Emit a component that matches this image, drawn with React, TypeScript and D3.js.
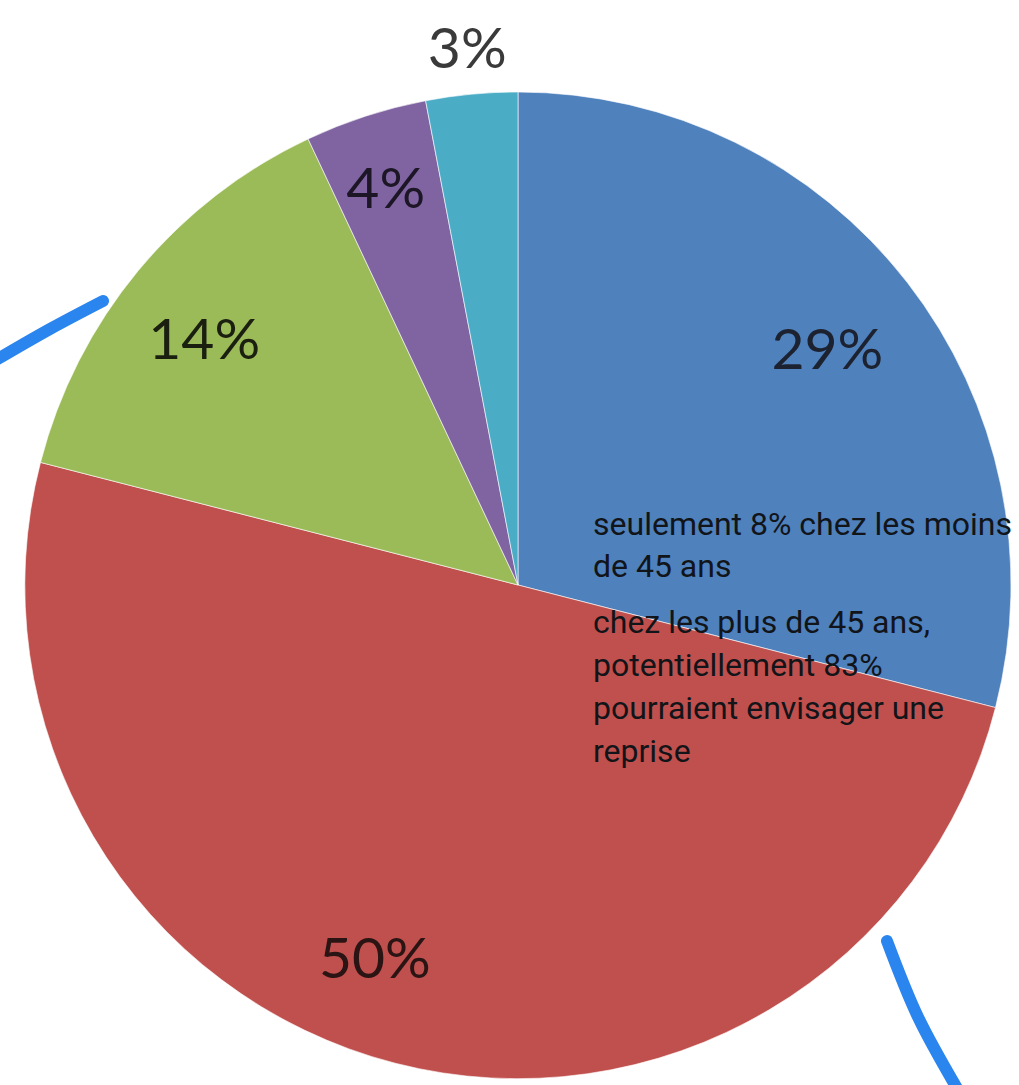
import React, { useEffect, useRef } from "react";
import * as d3 from "d3";

const categories = ["A", "B", "C", "D", "E"];
const values = [29, 50, 14, 4, 3];
const labels = ["29%", "50%", "14%", "4%", "3%"];
const colors = ["#4F81BD", "#C0504D", "#9BBB59", "#8064A2", "#4BACC6"];
const labelRadiusFrac = [0.79, 0.81, 0.81, 0.85, 1.095];
const labelAngleShiftDeg = [0.4, 6.6, -1.4, -0.4, 0];
const labelColors = ["#1c2230", "#2a1414", "#1a1f10", "#1c1626", "#3a3a3a"];

const note1 = ["seulement 8% chez les moins", "de 45 ans"];
const note2 = ["chez les plus de 45 ans,", "potentiellement 83%", "pourraient envisager une", "reprise"];

// decorative highlight strokes (hand-drawn arcs)
const strokeLeft: [number, number][] = [[-4, 360], [50, 329], [103, 301]];
const strokeRight: [number, number][] = [[887, 941], [918, 1017], [958, 1090]];

const W = 1019, H = 1085;
const cx = 518, cy = 585, R = 493;

export default function App() {
  const ref = useRef<SVGSVGElement>(null);
  useEffect(() => {
    const svg = d3.select(ref.current);
    svg.selectAll("*").remove();
    const g = svg.append("g").attr("transform", `translate(${cx},${cy})`);
    const pie = d3.pie<number>().sort(null).value((d) => d);
    const arcs = pie(values);
    const arc = d3.arc<d3.PieArcDatum<number>>().innerRadius(0).outerRadius(R);
    g.selectAll("path.slice")
      .data(arcs)
      .enter()
      .append("path")
      .attr("class", "slice")
      .attr("d", arc as any)
      .attr("fill", (_, i) => colors[i])
      .attr("stroke", "#ffffff")
      .attr("stroke-opacity", 0.6)
      .attr("stroke-width", 1);

    g.selectAll("text.lbl")
      .data(arcs)
      .enter()
      .append("text")
      .attr("class", "lbl")
      .attr("x", (d, i) => {
        const a = (d.startAngle + d.endAngle) / 2 + (labelAngleShiftDeg[i] * Math.PI) / 180;
        return Math.sin(a) * R * labelRadiusFrac[i];
      })
      .attr("y", (d, i) => {
        const a = (d.startAngle + d.endAngle) / 2 + (labelAngleShiftDeg[i] * Math.PI) / 180;
        return -Math.cos(a) * R * labelRadiusFrac[i];
      })
      .attr("dy", "0.36em")
      .attr("text-anchor", "middle")
      .attr("font-family", "Lato, 'Open Sans', sans-serif")
      .attr("font-size", 57)
      .attr("fill", (_, i) => labelColors[i])
      .text((_, i) => labels[i]);

    const line = d3.line().curve(d3.curveNatural);
    [strokeLeft, strokeRight].forEach((pts) => {
      svg
        .append("path")
        .attr("d", line(pts) as string)
        .attr("fill", "none")
        .attr("stroke", "#2B85EE")
        .attr("stroke-width", 12)
        .attr("stroke-linecap", "round");
    });

    const tg = svg
      .append("g")
      .attr("font-family", "Roboto, sans-serif")
      .attr("font-size", 32)
      .attr("fill", "#111418");
    note1.forEach((t, i) => {
      tg.append("text").attr("x", 593).attr("y", 535 + i * 42).text(t);
    });
    note2.forEach((t, i) => {
      tg.append("text").attr("x", 593).attr("y", 633 + i * 43).text(t);
    });
  }, []);
  return (
    <svg
      ref={ref}
      width={W}
      height={H}
      style={{ position: "absolute", left: 0, top: 0, background: "#fff" }}
      data-categories={categories.join(",")}
    />
  );
}
